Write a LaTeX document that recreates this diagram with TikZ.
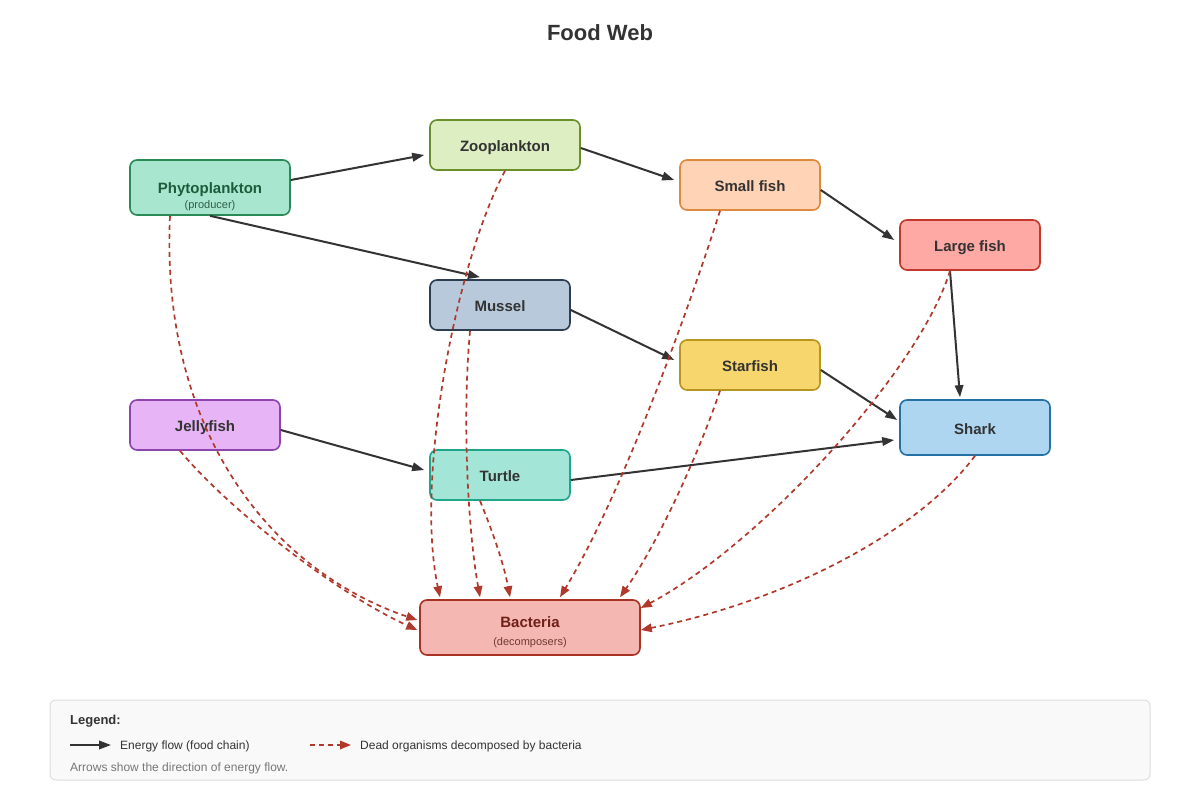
\documentclass[tikz,border=0pt]{standalone}
\usepackage{fontspec}
\setmainfont{Liberation Sans}
\usetikzlibrary{arrows.meta}
\definecolor{ink}{HTML}{333333}
\definecolor{deadred}{HTML}{B0392B}
\definecolor{phyfill}{HTML}{A9E6CF}\definecolor{phydraw}{HTML}{2A8A57}\definecolor{phytext}{HTML}{1D5C3B}\definecolor{physub}{HTML}{2F5E45}
\definecolor{zoofill}{HTML}{DDEEC2}\definecolor{zoodraw}{HTML}{6A8F2A}
\definecolor{smfill}{HTML}{FFD4B6}\definecolor{smdraw}{HTML}{DE8A3C}
\definecolor{lgfill}{HTML}{FFA9A5}\definecolor{lgdraw}{HTML}{C0392B}
\definecolor{mufill}{HTML}{B8C9DC}\definecolor{mudraw}{HTML}{2C3E50}
\definecolor{stfill}{HTML}{F7D66E}\definecolor{stdraw}{HTML}{B7961F}
\definecolor{jefill}{HTML}{E7B4F6}\definecolor{jedraw}{HTML}{8E44AD}
\definecolor{shfill}{HTML}{AED6F1}\definecolor{shdraw}{HTML}{2471A3}
\definecolor{tufill}{HTML}{A3E5D7}\definecolor{tudraw}{HTML}{1FA58A}
\definecolor{bafill}{HTML}{F5B7B1}\definecolor{badraw}{HTML}{A93226}\definecolor{batext}{HTML}{6E2019}\definecolor{basub}{HTML}{6E3A35}
\definecolor{legdraw}{HTML}{DDDDDD}\definecolor{legfill}{HTML}{F9F9F9}\definecolor{notegray}{HTML}{777777}
\tikzset{
  org/.style={draw, line width=1.6pt, rounded corners=7pt, inner sep=0pt,
    font=\fontsize{15}{18}\selectfont\bfseries, text=ink, align=center,
    text height=13.8pt, text depth=0pt},
  eat/.style={draw=ink, line width=2pt, -{Triangle[length=12pt,width=8.5pt]}},
  decay/.style={draw=deadred, line width=1.7pt, dash pattern=on 5pt off 4pt, -{Triangle[length=11pt,width=8.5pt]}},
  legtext/.style={anchor=west, inner sep=0pt, font=\fontsize{12}{14}\selectfont, text=ink},
}
\begin{document}
\begin{tikzpicture}[x=1pt,y=-1pt]
\useasboundingbox (0,0) rectangle (1200,800);
\fill[white] (0,0) rectangle (1200,800);

\node[font=\fontsize{22}{26}\selectfont\bfseries, text=ink] (title) at (600,33) {Food Web};

% organisms
\node[org, fill=phyfill, draw=phydraw, minimum width=160pt, minimum height=55pt] (phyto) at (210,187.5) {};
\node[anchor=base, inner sep=0pt, font=\fontsize{15}{18}\selectfont\bfseries, text=phytext] (phytolabel) at (210,193.5) {Phytoplankton};
\node[anchor=base, inner sep=0pt, font=\fontsize{11}{13}\selectfont, text=physub] (phytosub) at (210,208) {(producer)};

\node[org, fill=zoofill, draw=zoodraw, minimum width=150pt, minimum height=50pt] (zoo) at (505,145) {Zooplankton};
\node[org, fill=smfill, draw=smdraw, minimum width=140pt, minimum height=50pt] (small) at (750,185) {Small fish};
\node[org, fill=lgfill, draw=lgdraw, minimum width=140pt, minimum height=50pt] (large) at (970,245) {Large fish};
\node[org, fill=mufill, draw=mudraw, minimum width=140pt, minimum height=50pt] (mussel) at (500,305) {Mussel};
\node[org, fill=stfill, draw=stdraw, minimum width=140pt, minimum height=50pt] (star) at (750,365) {Starfish};
\node[org, fill=jefill, draw=jedraw, minimum width=150pt, minimum height=50pt] (jelly) at (205,425) {Jellyfish};
\node[org, fill=shfill, draw=shdraw, minimum width=150pt, minimum height=55pt] (shark) at (975,427.5) {Shark};
\node[org, fill=tufill, draw=tudraw, minimum width=140pt, minimum height=50pt] (turtle) at (500,475) {Turtle};
\node[org, fill=bafill, draw=badraw, minimum width=220pt, minimum height=55pt] (bact) at (530,627.5) {};
\node[anchor=base, inner sep=0pt, font=\fontsize{15}{18}\selectfont\bfseries, text=batext] (bactlabel) at (530,627.5) {Bacteria};
\node[anchor=base, inner sep=0pt, font=\fontsize{11}{13}\selectfont, text=basub] (bactsub) at (530,645) {(decomposers)};

% energy flow
\draw[eat] ([yshift=7.5pt]phyto.east) -- ([xshift=-5pt,yshift=-10pt]zoo.west);
\draw[eat] (phyto.south) -- ([xshift=-20pt,yshift=2pt]mussel.north);
\draw[eat] ([yshift=-3pt]zoo.east) -- ([xshift=-5pt,yshift=5pt]small.west);
\draw[eat] ([yshift=-5pt]small.east) -- ([xshift=-5pt,yshift=5pt]large.west);
\draw[eat] ([yshift=-5pt]mussel.east) -- ([xshift=-5pt,yshift=5pt]star.west);
\draw[eat] ([yshift=-5pt]star.east) -- ([xshift=-2pt,yshift=7.5pt]shark.west);
\draw[eat] ([xshift=-20pt]large.south) -- ([xshift=-15pt,yshift=2pt]shark.north);
\draw[eat] ([yshift=-5pt]jelly.east) -- ([xshift=-5pt,yshift=5pt]turtle.west);
\draw[eat] ([yshift=-5pt]turtle.east) -- ([xshift=-5pt,yshift=-12.5pt]shark.west);

% decomposition
\draw[decay] ([xshift=-40pt]phyto.south) .. controls (160,430) and (270,570) .. ([xshift=-2pt,yshift=7.5pt]bact.west);
\draw[decay] ([xshift=-25pt]jelly.south) .. controls (225,505) and (330,590) .. ([xshift=-2pt,yshift=-2.5pt]bact.west);
\draw[decay] (zoo.south) .. controls (455,265) and (415,480) .. ([xshift=-90pt,yshift=2pt]bact.north);
\draw[decay] ([xshift=-30pt]mussel.south) .. controls (462,420) and (468,530) .. ([xshift=-50pt,yshift=2pt]bact.north);
\draw[decay] ([xshift=-20pt]turtle.south) .. controls (494,535) and (504,565) .. ([xshift=-20pt,yshift=2pt]bact.north);
\draw[decay] ([xshift=-30pt]small.south) .. controls (695,290) and (625,490) .. ([xshift=30pt,yshift=2pt]bact.north);
\draw[decay] ([xshift=-30pt]star.south) .. controls (700,450) and (660,540) .. ([xshift=90pt,yshift=2pt]bact.north);
\draw[decay] ([xshift=-20pt]large.south) .. controls (920,370) and (760,545) .. ([yshift=19.5pt]bact.east);
\draw[decay] (shark.south) .. controls (920,530) and (790,600) .. ([yshift=-2.5pt]bact.east);

% legend
\node[draw=legdraw, fill=legfill, line width=1pt, rounded corners=6pt, minimum width=1100pt, minimum height=80pt, inner sep=0pt] (legend) at (600,740) {};
\node[legtext, font=\fontsize{13}{15}\selectfont\bfseries] (legtitle) at (70,721) {Legend:};
\coordinate (ea) at (70,745);
\coordinate (eb) at (111,745);
\draw[eat] (ea) -- (eb);
\node[legtext] (eattext) at (120,746) {Energy flow (food chain)};
\coordinate (da) at (310,745);
\coordinate (db) at (351,745);
\draw[decay] (da) -- (db);
\node[legtext] (decaytext) at (360,746) {Dead organisms decomposed by bacteria};
\node[legtext, text=notegray] (legnote) at (70,768) {Arrows show the direction of energy flow.};
\end{tikzpicture}
\end{document}
